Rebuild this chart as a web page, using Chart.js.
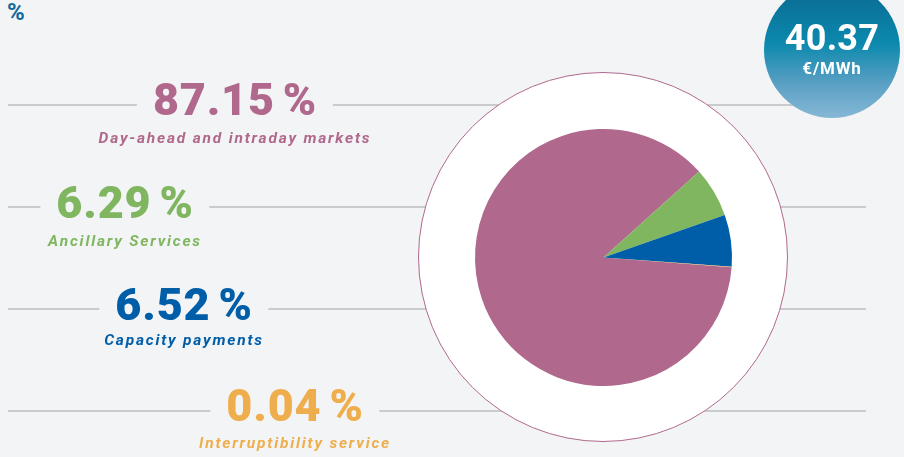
<!DOCTYPE html>
<html>
<head>
<meta charset="utf-8">
<script src="https://cdn.jsdelivr.net/npm/chart.js@4"></script>
<style>
  html, body { margin: 0; padding: 0; }
  body { width: 904px; height: 457px; background: #f3f4f6; overflow: hidden; position: relative; font-family: Roboto, "Open Sans", sans-serif; }
  .rule { position: absolute; left: 8px; width: 858px; height: 2px; background: #cacbce; }
  .ring { position: absolute; left: 418px; top: 72px; width: 368px; height: 368px; border-radius: 50%; background: #fff; border: 1.5px solid #b0698d; }
  .num { position: absolute; font-size: 45px; line-height: 45px; font-weight: 900; letter-spacing: 0.8px; word-spacing: -4px; white-space: nowrap; background: #f3f4f6; padding: 0 16px; transform: translateX(-50%); }
  .lab { position: absolute; font-size: 15.5px; line-height: 16px; font-weight: 700; font-style: italic; letter-spacing: 1.8px; white-space: nowrap; transform: translateX(-50%); }
  .unit { position: absolute; left: 7px; top: 0px; font-size: 24px; line-height: 24px; font-weight: 700; color: #15699a; }
  .bubble { position: absolute; left: 764px; top: -18px; width: 136px; height: 136px; border-radius: 50%;
    background: linear-gradient(to bottom, #0b6690 0%, #0b89ad 45%, #5aa0c4 75%, #86b8d5 100%); color: #fff; text-align: center; }
  .bubble .big { position: absolute; left: 0; right: 0; top: 38px; font-size: 36px; line-height: 36px; font-weight: 700; letter-spacing: 0.3px; }
  .bubble .small { position: absolute; left: 0; right: 0; top: 78px; font-size: 17px; line-height: 17px; font-weight: 700; letter-spacing: 0.8px; }
  canvas { position: absolute; left: 0; top: 0; }
</style>
</head>
<body>
<div class="unit">%</div>
<div id="rules"></div>
<div class="ring"></div>
<canvas id="pie" width="904" height="457"></canvas>
<div id="texts"></div>
<div class="bubble"><div class="big">40.37</div><div class="small">€/MWh</div></div>

<script>
// data
const categories = ["Day-ahead and intraday markets", "Ancillary Services", "Capacity payments", "Interruptibility service"];
const shares = [87.15, 6.29, 6.52, 0.04];
const shareLabels = ["87.15 %", "6.29 %", "6.52 %", "0.04 %"];
const colors = ["#b0698d", "#80b660", "#005da8", "#efae4d"];

// where each label block sits on the left
const blockX = [235, 125, 184, 295];
const ruleY = [104, 206, 308, 410];
const numBaseline = [115, 218, 320, 421];
const labBaseline = [143, 246, 345, 448];

const rules = document.getElementById("rules");
const texts = document.getElementById("texts");
ruleY.forEach(function (y) {
  const r = document.createElement("div");
  r.className = "rule";
  r.style.top = y + "px";
  rules.appendChild(r);
});

categories.forEach(function (name, i) {
  const n = document.createElement("div");
  n.className = "num";
  n.textContent = shareLabels[i];
  n.style.color = colors[i];
  n.style.left = blockX[i] + "px";
  n.style.top = Math.round(numBaseline[i] - 45 * 0.842) + "px";
  texts.appendChild(n);

  const l = document.createElement("div");
  l.className = "lab";
  l.textContent = name;
  l.style.color = colors[i];
  l.style.left = blockX[i] + "px";
  l.style.top = Math.round(labBaseline[i] - 16 * 0.842) + "px";
  texts.appendChild(l);
});

new Chart(document.getElementById("pie"), {
  type: "pie",
  data: {
    labels: categories,
    datasets: [
      {
        data: shares,
        backgroundColor: colors,
        borderWidth: 0,
      },
    ],
  },
  options: {
    responsive: false,
    animation: false,
    rotation: 94.3, // pink slice starts just below 3 o'clock
    layout: { padding: { left: 475, right: 172, top: 129, bottom: 71 } },
    plugins: {
      legend: { display: false },
      tooltip: { enabled: false },
    },
  },
});
</script>
</body>
</html>
